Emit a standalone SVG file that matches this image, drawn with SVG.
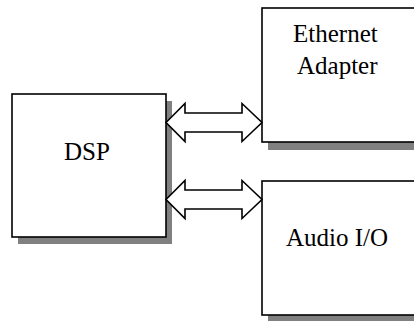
<svg xmlns="http://www.w3.org/2000/svg" width="414" height="321" viewBox="0 0 414 321">
<style>
.shadow{fill:#808080;stroke:none}
.box{fill:#fff;stroke:#000;stroke-width:1.6}
.arrow{fill:#fff;stroke:#000;stroke-width:1.6;stroke-linejoin:miter}
.label{font-family:"Liberation Serif","Times New Roman",serif;font-size:25px;fill:#000}
</style>
<rect width="414" height="321" fill="#fff"/>
<g id="dsp">
<rect class="shadow" x="18" y="101" width="154" height="143"/>
<rect class="box" x="12" y="94" width="154" height="143"/>
<text class="label" x="64" y="160">DSP</text>
</g>
<g id="ethernet">
<rect class="shadow" x="268" y="15" width="160" height="135"/>
<rect class="box" x="262" y="8" width="160" height="134"/>
<text class="label" x="293" y="42">Ethernet</text>
<text class="label" x="297" y="74">Adapter</text>
</g>
<g id="audio">
<rect class="shadow" x="268" y="188" width="160" height="134"/>
<rect class="box" x="262" y="181" width="160" height="134"/>
<text class="label" x="286" y="246">Audio I/O</text>
</g>
<g id="connectors">
<polygon class="arrow" points="166,122.5 185,103.5 185,113 242,113 242,103.5 262,122.5 242,141.5 242,132 185,132 185,141.5"/>
<polygon class="arrow" points="166,199.5 185,180.5 185,190 242,190 242,180.5 262,199.5 242,218.5 242,209 185,209 185,218.5"/>
</g>
</svg>
